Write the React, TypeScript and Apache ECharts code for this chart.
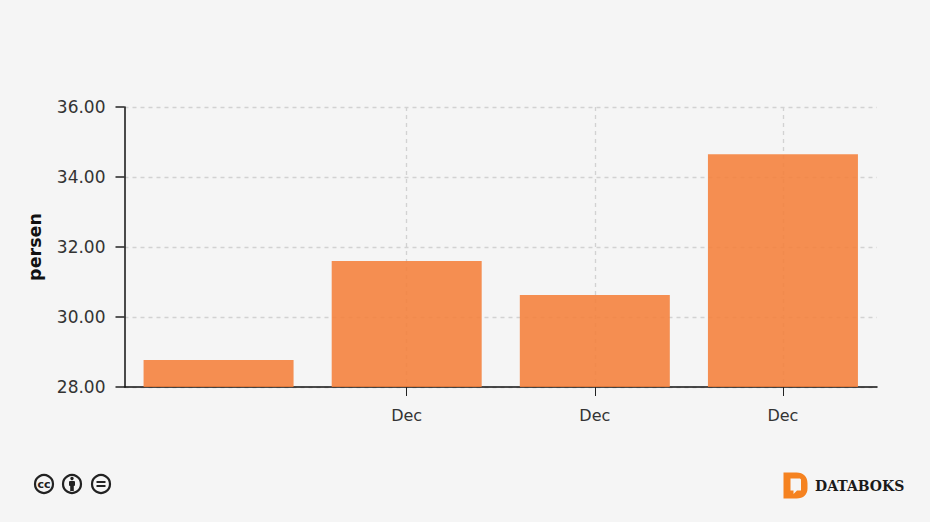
import React, { useEffect, useRef } from "react";
import * as echarts from "echarts";

const categories = ["", "Dec", "Dec", "Dec"];
const values = [28.77, 31.6, 30.63, 34.65];
const yTicks = { min: 28, max: 36, interval: 2 };
const axisName = "persen";
const brandName = "DATABOKS";

echarts.graphic.registerShape(
  "dbLogo",
  echarts.graphic.extendPath(
    "M0 0L13 0C20 0 24 4 24 11L24 16C24 22 20 26 13 26L0 26ZM7 6L7 18L10 18L10 21.5L13.5 18L17.5 18L17.5 7L16.5 6Z",
    {}
  )
);

const DARK = "#222";

function ccIcons(): any[] {
  const ring = (cx: number) => ({
    type: "circle",
    shape: { cx, cy: 484, r: 9 },
    style: { fill: "#f5f5f5", stroke: DARK, lineWidth: 2.2 },
  });
  return [
    ring(44),
    {
      type: "text",
      x: 44,
      y: 484.5,
      style: {
        text: "cc",
        fill: DARK,
        font: "bold 11px 'DejaVu Sans'",
        align: "center",
        verticalAlign: "middle",
      },
    },
    ring(72),
    { type: "circle", shape: { cx: 72, cy: 478.5, r: 1.7 }, style: { fill: DARK } },
    { type: "rect", shape: { x: 69, y: 481, width: 6, height: 5, r: 1 }, style: { fill: DARK } },
    { type: "rect", shape: { x: 70.2, y: 485, width: 3.6, height: 6 }, style: { fill: DARK } },
    ring(101),
    { type: "rect", shape: { x: 96.5, y: 481, width: 9, height: 2 }, style: { fill: DARK } },
    { type: "rect", shape: { x: 96.5, y: 485, width: 9, height: 2 }, style: { fill: DARK } },
  ];
}

export default function App() {
  const ref = useRef<HTMLDivElement>(null);
  useEffect(() => {
    document.body.style.margin = "0";
    const chart = echarts.init(ref.current!, null, { renderer: "svg" });
    const shown = (i: number) => i !== 0;
    chart.setOption({
      animation: false,
      backgroundColor: "#f5f5f5",
      grid: { left: 124.5, right: 53, top: 107, bottom: 135, containLabel: false },
      xAxis: {
        type: "category",
        data: categories,
        axisLine: { lineStyle: { color: "#111", width: 1.5 } },
        axisTick: {
          show: true,
          alignWithLabel: true,
          length: 9,
          interval: (i: number) => shown(i),
          lineStyle: { color: "#222", width: 1 },
        },
        axisLabel: {
          interval: 0,
          color: "#333",
          fontFamily: "DejaVu Sans",
          fontSize: 16,
          margin: 20,
        },
        splitLine: {
          show: true,
          interval: (i: number) => shown(i),
          alignWithLabel: true,
          lineStyle: { color: "#d2d2d2", type: [4, 4], width: 1.3 },
        },
      },
      yAxis: {
        type: "value",
        min: yTicks.min,
        max: yTicks.max,
        interval: yTicks.interval,
        name: axisName,
        nameLocation: "middle",
        nameGap: 81,
        nameTextStyle: {
          color: "#111",
          fontFamily: "DejaVu Sans",
          fontWeight: "bold",
          fontSize: 17.5,
        },
        axisLine: { show: true, lineStyle: { color: "#111", width: 1.5 } },
        axisTick: { show: true, length: 9, lineStyle: { color: "#222", width: 1.5 } },
        axisLabel: {
          color: "#333",
          fontFamily: "DejaVu Sans",
          fontSize: 17,
          margin: 19,
          formatter: (v: number) => v.toFixed(2),
        },
        splitLine: {
          show: true,
          lineStyle: { color: "#d2d2d2", type: [4, 4], width: 1.3 },
        },
      },
      series: [
        {
          type: "bar",
          data: values,
          barWidth: 150,
          itemStyle: { color: "#f57f3a", opacity: 0.88 },
        },
      ],
      graphic: [
        ...ccIcons(),
        {
          type: "dbLogo",
          x: 783.5,
          y: 472.5,
          style: { fill: "#f58220" },
        },
        {
          type: "text",
          x: 815,
          y: 486,
          style: {
            text: brandName,
            fill: "#1a1a1a",
            font: "bold 14px 'DejaVu Serif'",
            align: "left",
            verticalAlign: "middle",
          },
        },
      ],
    });
    return () => chart.dispose();
  }, []);
  return <div ref={ref} style={{ width: 930, height: 522 }} />;
}
